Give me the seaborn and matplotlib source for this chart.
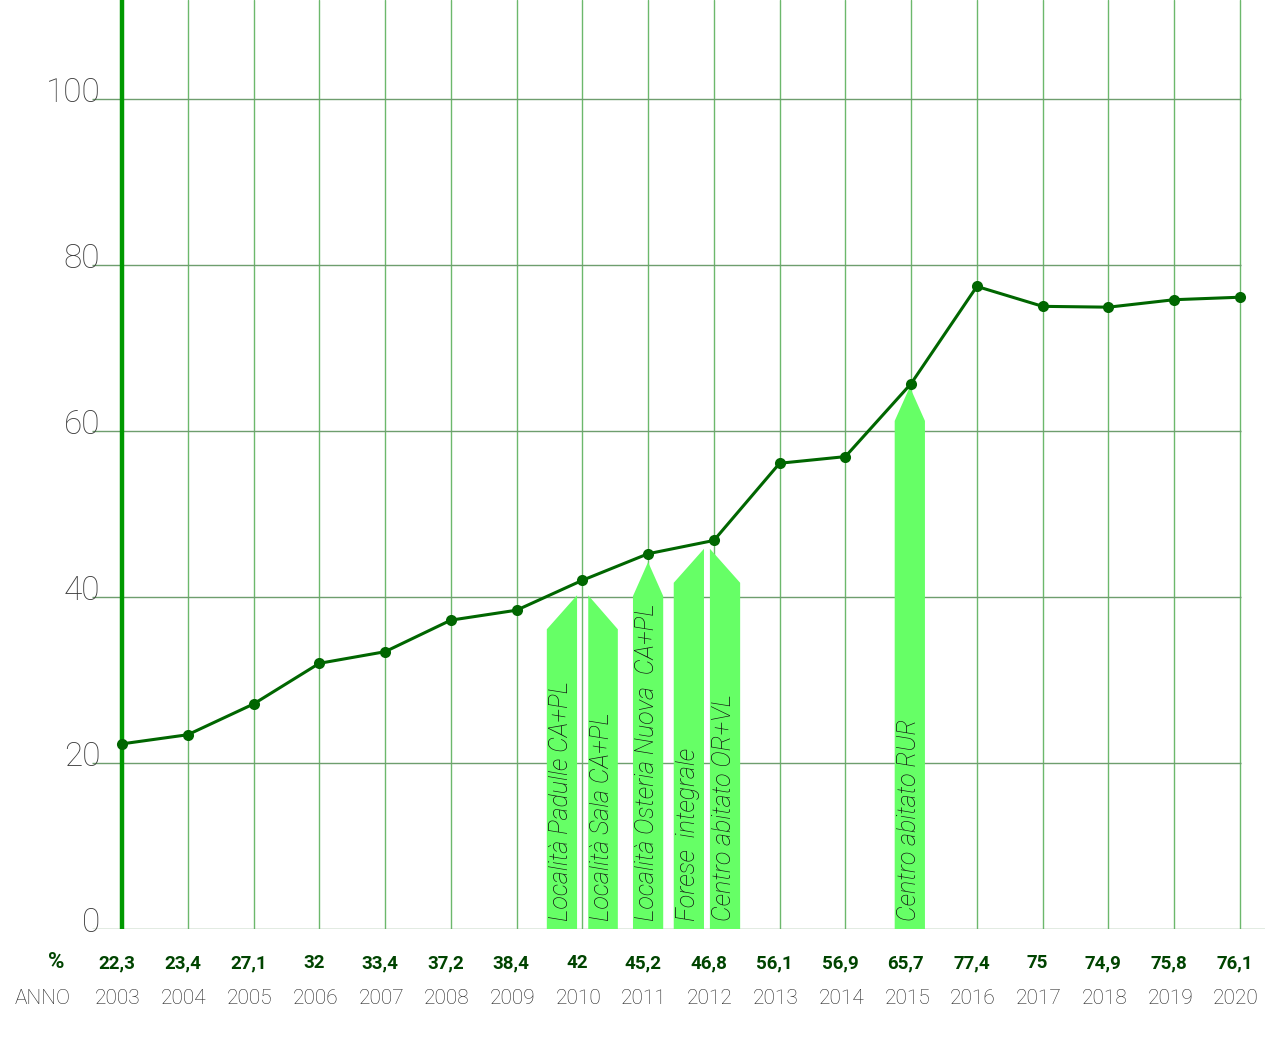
import numpy as np
import matplotlib
matplotlib.use("Agg")
import matplotlib.pyplot as plt
import matplotlib.transforms as mtransforms
import seaborn as sns

# dati: raccolta differenziata (%) per anno
anni = [2003, 2004, 2005, 2006, 2007, 2008, 2009, 2010, 2011,
        2012, 2013, 2014, 2015, 2016, 2017, 2018, 2019, 2020]
percentuali = [22.3, 23.4, 27.1, 32, 33.4, 37.2, 38.4, 42, 45.2,
               46.8, 56.1, 56.9, 65.7, 77.4, 75, 74.9, 75.8, 76.1]
etichette_pct = ["22,3", "23,4", "27,1", "32", "33,4", "37,2", "38,4", "42", "45,2",
                 "46,8", "56,1", "56,9", "65,7", "77,4", "75", "74,9", "75,8", "76,1"]
y_ticks = [0, 20, 40, 60, 80, 100]

# frecce: anno di riferimento, testo, altezza della punta
frecce_anno = [2010, 2010, 2011, 2012, 2012, 2015]
frecce_testo = ["Località Padulle CA+PL", "Località Sala CA+PL",
                "Località Osteria Nuova  CA+PL", "Forese  integrale",
                "Centro abitato OR+VL", "Centro abitato RUR"]
frecce_punta = [40.2, 40.2, 44.2, 45.8, 45.8, 65.3]

sns.set_theme(style="white")
plt.rcParams["font.family"] = ["Roboto", "DejaVu Sans"]

fig = plt.figure(figsize=(12.81, 10.38), dpi=100)
ax = fig.add_axes([92 / 1281, 1 - 929 / 1038, (1265 - 92) / 1281, 929 / 1038])

x_min, x_max = 2002.544, 2020.381
ax.set_xlim(x_min, x_max)
ax.set_ylim(0, 111.9)

# griglia verticale (verde) e orizzontale
for a in anni[1:]:
    ax.axvline(a, color="#6cb86c", lw=1, zorder=1)
for v in y_ticks[1:]:
    ax.hlines(v, x_min, 2020.02, color="#6e9e6e", lw=1, zorder=1)
ax.hlines(0, x_min, x_max, color="#6e9e6e", lw=1, zorder=1)
ax.axvline(2003, color="#009900", lw=3.2, zorder=2)

# etichette asse y
for v in y_ticks:
    ax.text(2002.67, v - 0.4, str(v), ha="right", va="baseline",
            fontsize=24, fontweight="light", color="#3c3c3c", zorder=5)

# frecce verdi (forma: geometria relativa all'anno)
forme = [(-0.54, -0.08, "dx"), (0.09, 0.54, "sx"), (-0.23, 0.23, "c"),
         (-0.61, -0.15, "dx"), (-0.06, 0.40, "sx"), (-0.25, 0.21, "c")]
spalla = 4.1
for anno, testo, punta, (o0, o1, tipo) in zip(frecce_anno, frecce_testo, frecce_punta, forme):
    x0, x1 = anno + o0, anno + o1
    if tipo == "dx":
        xs = [x0, x0, x1, x1]
        ys = [0, punta - spalla, punta, 0]
    elif tipo == "sx":
        xs = [x0, x0, x1, x1]
        ys = [0, punta, punta - spalla, 0]
    else:
        xm = (x0 + x1) / 2
        xs = [x0, x0, xm, x1, x1]
        ys = [0, punta - spalla, punta, punta - spalla, 0]
    ax.fill(xs, ys, color="#66ff66", lw=0, zorder=3)
    ax.text((x0 + x1) / 2 - 0.02, 1.0, testo, rotation=90, ha="center", va="bottom",
            fontsize=18, fontstyle="italic", fontweight="light", color="#111111", zorder=4)

# linea con punti
sns.lineplot(x=anni, y=percentuali, ax=ax, color="#006600", lw=2.2, marker="o",
             markersize=8, markeredgewidth=0, zorder=6)

# tabella sotto il grafico
trans = mtransforms.blended_transform_factory(ax.transData, ax.transAxes)
for a, lab in zip(anni, etichette_pct):
    ax.text(a - 0.08, -0.0366, lab, transform=trans, ha="center", va="center",
            fontsize=13.5, fontweight="bold", color="#004400")
    ax.text(a - 0.06, -0.0743, str(a), transform=trans, ha="center", va="center",
            fontsize=15, fontweight="light", color="#222222")
fig.text(56 / 1281, 1 - 962 / 1038, "%", ha="center", va="center",
         fontsize=16, fontweight="bold", color="#004400")
fig.text(43 / 1281, 1 - 998 / 1038, "ANNO", ha="center", va="center",
         fontsize=15, fontweight="light", color="#222222")

for s in ax.spines.values():
    s.set_visible(False)
ax.set_xticks([])
ax.set_yticks([])
ax.set_xlabel("")
ax.set_ylabel("")
if ax.get_legend():
    ax.get_legend().remove()

fig.savefig("out.png", dpi=100)
